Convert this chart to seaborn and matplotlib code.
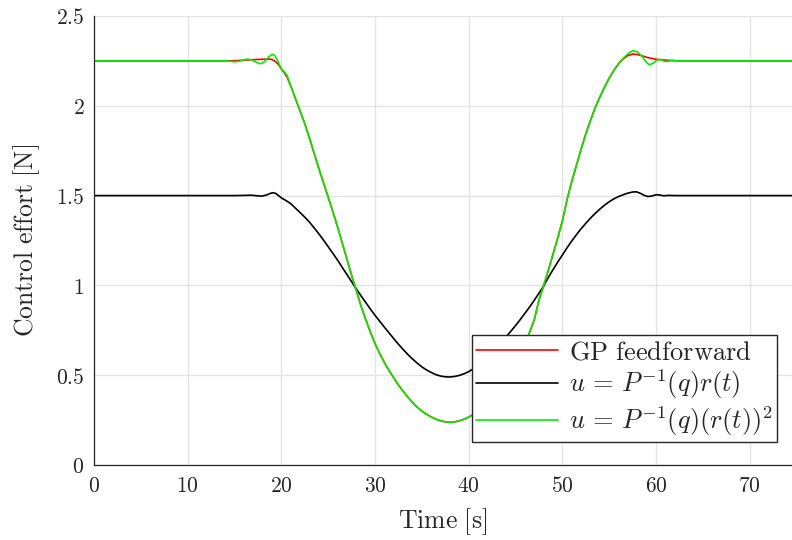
import matplotlib
matplotlib.use('Agg')
import matplotlib.pyplot as plt
import seaborn as sns
from matplotlib.ticker import FuncFormatter

# values
t_gp = [0, 10, 14, 15, 16, 17, 18, 18.6, 19.0, 19.4, 19.7, 20.0, 20.3, 20.6,
        21, 21.5, 22, 22.5, 23, 23.5, 24, 24.5, 25, 25.5, 26, 26.5, 27, 27.5,
        28, 28.5, 29, 29.5, 30, 30.5, 31, 31.5, 32, 32.5, 33, 33.5, 34, 34.5,
        35, 35.5, 36, 36.5, 37, 37.5, 38, 38.5, 39, 39.5, 40, 40.5, 41, 41.5,
        42, 42.5, 43, 43.5, 44, 44.5, 45, 45.5, 46, 46.5, 47, 47.5, 48, 48.5,
        49, 49.5, 50, 50.5, 51, 51.5, 52, 52.5, 53, 53.5, 54, 54.5, 55, 55.5,
        56, 56.5, 57, 57.5, 58, 58.5, 59, 59.5, 60, 61, 62, 63, 75]
u_gp = [2.25, 2.25, 2.25, 2.251, 2.254, 2.257, 2.259, 2.26, 2.258, 2.245,
        2.228, 2.205, 2.185, 2.16,
        2.11, 2.04, 1.97, 1.90, 1.82, 1.735, 1.65, 1.57, 1.49, 1.41, 1.325,
        1.235, 1.145, 1.055, 0.97, 0.885, 0.81, 0.74, 0.675, 0.62, 0.57, 0.525,
        0.485, 0.445, 0.41, 0.378, 0.348, 0.322, 0.3, 0.282, 0.267, 0.255,
        0.246, 0.24, 0.238, 0.24, 0.246, 0.255, 0.267, 0.282, 0.3, 0.322,
        0.348, 0.378, 0.41, 0.445, 0.485, 0.525, 0.57, 0.62, 0.675, 0.74, 0.81,
        0.92, 1.0, 1.085, 1.175, 1.265, 1.36, 1.48, 1.58, 1.67, 1.76, 1.845,
        1.92, 1.99, 2.05, 2.105, 2.155, 2.198, 2.235, 2.262, 2.28, 2.288,
        2.285, 2.278, 2.27, 2.264, 2.259, 2.254, 2.251, 2.25, 2.25]

t_sq = [0, 10, 14, 14.5, 15, 15.5, 16, 16.4, 16.9, 17.4, 17.8, 18.2, 18.6,
        19.0, 19.3, 19.6, 20.0, 20.3, 20.6,
        21, 21.5, 22, 22.5, 23, 23.5, 24, 24.5, 25, 25.5, 26, 26.5, 27, 27.5,
        28, 28.5, 29, 29.5, 30, 30.5, 31, 31.5, 32, 32.5, 33, 33.5, 34, 34.5,
        35, 35.5, 36, 36.5, 37, 37.5, 38, 38.5, 39, 39.5, 40, 40.5, 41, 41.5,
        42, 42.5, 43, 43.5, 44, 44.5, 45, 45.5, 46, 46.5, 47, 47.5, 48, 48.5,
        49, 49.5, 50, 50.5, 51, 51.5, 52, 52.5, 53, 53.5, 54, 54.5, 55, 55.5,
        56, 56.5, 57, 57.5, 58, 58.5, 59, 59.3, 59.7, 60.1, 60.5, 60.9, 61.3,
        61.7, 62.2, 75]
u_sq = [2.25, 2.25, 2.25, 2.248, 2.245, 2.248, 2.256, 2.26, 2.255, 2.24,
        2.234, 2.245, 2.27, 2.287, 2.28, 2.25, 2.205, 2.19, 2.17,
        2.11, 2.04, 1.97, 1.90, 1.82, 1.735, 1.65, 1.57, 1.49, 1.41, 1.325,
        1.235, 1.145, 1.055, 0.97, 0.885, 0.81, 0.74, 0.675, 0.62, 0.57, 0.525,
        0.485, 0.445, 0.41, 0.378, 0.348, 0.322, 0.3, 0.282, 0.267, 0.255,
        0.246, 0.24, 0.238, 0.24, 0.246, 0.255, 0.267, 0.282, 0.3, 0.322,
        0.348, 0.378, 0.41, 0.445, 0.485, 0.525, 0.57, 0.62, 0.675, 0.74, 0.81,
        0.92, 1.0, 1.085, 1.175, 1.265, 1.36, 1.48, 1.58, 1.67, 1.76, 1.845,
        1.92, 1.99, 2.05, 2.105, 2.155, 2.198, 2.235, 2.265, 2.29, 2.307,
        2.30, 2.275, 2.24, 2.228, 2.238, 2.255, 2.258, 2.247, 2.248, 2.253,
        2.25, 2.25]

t_lin = [0, 10, 15, 16, 16.8, 17.4, 17.9, 18.4, 18.8, 19.1, 19.4, 19.7, 20.0,
         20.5, 21, 21.5, 22, 22.5, 23, 23.5, 24, 24.5, 25, 25.5, 26, 26.5, 27,
         27.5, 28, 28.5, 29, 29.5, 30, 30.5, 31, 31.5, 32, 32.5, 33, 33.5, 34,
         34.5, 35, 35.5, 36, 36.5, 37, 37.5, 38, 38.5, 39, 39.5, 40, 40.5, 41,
         41.5, 42, 42.5, 43, 43.5, 44, 44.5, 45, 45.5, 46, 46.5, 47, 47.5, 48,
         48.5, 49, 49.5, 50, 50.5, 51, 51.5, 52, 52.5, 53, 53.5, 54, 54.5, 55,
         55.5, 56, 56.5, 57, 57.5, 57.9, 58.3, 58.7, 59.1, 59.5, 60.0, 60.4,
         60.8, 61.3, 62, 75]
u_lin = [1.5, 1.5, 1.5, 1.501, 1.502, 1.499, 1.497, 1.503, 1.512, 1.516,
         1.512, 1.5, 1.487, 1.472, 1.455, 1.43, 1.405, 1.38, 1.352, 1.32,
         1.287, 1.252, 1.215, 1.178, 1.14, 1.1, 1.06, 1.02, 0.98, 0.942, 0.905,
         0.868, 0.833, 0.8, 0.767, 0.735, 0.703, 0.672, 0.643, 0.615, 0.59,
         0.567, 0.546, 0.529, 0.515, 0.503, 0.495, 0.491, 0.49, 0.493, 0.499,
         0.508, 0.52, 0.536, 0.555, 0.576, 0.6, 0.627, 0.655, 0.685, 0.715,
         0.745, 0.777, 0.81, 0.845, 0.88, 0.918, 0.957, 0.997, 1.045, 1.088,
         1.13, 1.17, 1.21, 1.248, 1.283, 1.316, 1.346, 1.375, 1.401, 1.425,
         1.447, 1.466, 1.482, 1.495, 1.505, 1.514, 1.52, 1.521, 1.513, 1.502,
         1.495, 1.497, 1.505, 1.503, 1.499, 1.501, 1.5, 1.5]

labels = [r'$\mathrm{GP\ feedforward}$',
          r'$u\,=\,P^{-1}(q)r(t)$',
          r'$u\,=\,P^{-1}(q)(r(t))^2$']

sns.set_style('whitegrid')
plt.rcParams['font.family'] = ['DejaVu Serif']
plt.rcParams['mathtext.fontset'] = 'cm'

fig = plt.figure(figsize=(7.92, 5.4), dpi=100)
ax = fig.add_axes([0.1187, 0.1389, 0.8813, 0.8315])

sns.lineplot(x=t_gp, y=u_gp, color='#ff0000', lw=1.2, label=labels[0], ax=ax)
sns.lineplot(x=t_lin, y=u_lin, color='black', lw=1.2, label=labels[1], ax=ax)
sns.lineplot(x=t_sq, y=u_sq, color='#00ee00', lw=1.2, label=labels[2], ax=ax)

ax.set_xlim(0, 74.5)
ax.set_ylim(0, 2.5)
ax.set_xticks(range(0, 71, 10))
ax.set_yticks([0, 0.5, 1, 1.5, 2, 2.5])
ax.xaxis.set_major_formatter(FuncFormatter(lambda v, p: f'${v:g}$'))
ax.yaxis.set_major_formatter(FuncFormatter(lambda v, p: f'${v:g}$'))
ax.grid(True, color='#e3e3e3', lw=1.0)
ax.tick_params(labelsize=15.5, direction='in', length=4, colors='#262626',
               labelcolor='#262626', pad=7)
for s in ['top', 'right']:
    ax.spines[s].set_visible(False)
for s in ['left', 'bottom']:
    ax.spines[s].set_color('#262626')
    ax.spines[s].set_linewidth(0.9)

ax.set_xlabel(r'$\mathrm{Time\ [s]}$', fontsize=18.5, color='#262626', labelpad=7)
ax.set_ylabel(r'$\mathrm{Control\ effort\ [N]}$', fontsize=18.5, color='#262626',
              labelpad=10)

leg = ax.legend(loc='lower right', bbox_to_anchor=(0.978, 0.051), fontsize=19,
                frameon=True, fancybox=False, framealpha=1, edgecolor='#262626',
                handlelength=3.1, borderpad=0.15, labelspacing=0.12,
                handletextpad=0.4, borderaxespad=0)
leg.get_frame().set_linewidth(1.0)

fig.savefig('out.png', dpi=100)
